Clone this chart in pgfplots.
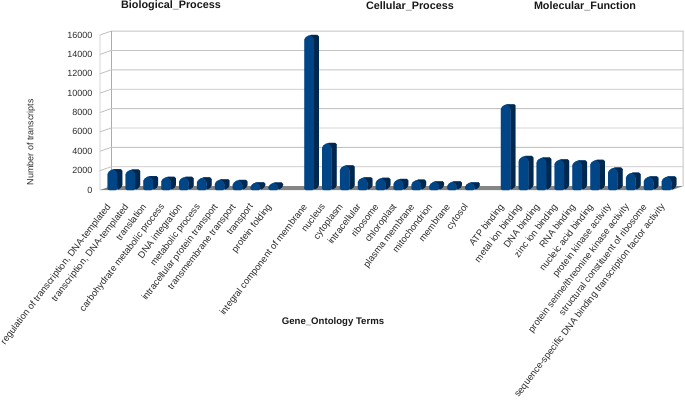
\documentclass[border=0pt]{standalone}
\usepackage{pgfplots}
\usepackage{pgfplotstable}
\usepackage{fontspec}
\setmainfont{Liberation Sans}
\pgfplotsset{compat=1.18}
\definecolor{barfront}{HTML}{004586}
\definecolor{barside}{HTML}{00284F}
\definecolor{gridc}{HTML}{C6C3C3}
\definecolor{floorc}{HTML}{858585}
\definecolor{txt}{HTML}{2A2A2A}
\pgfplotstableread{
x v
0 1800
1 1750
2 1080
3 1000
4 1000
5 930
6 750
7 680
8 450
9 420
11 15640
12 4500
13 2200
14 950
15 890
16 780
17 700
18 550
19 530
20 450
22 8500
23 3150
24 3000
25 2800
26 2700
27 2750
28 1950
29 1430
30 1050
31 1050
}\godata
\begin{document}
\begin{tikzpicture}[x=1pt,y=1pt]
\useasboundingbox (0,0) rectangle (685,400);
\begin{axis}[
  at={(100pt,210pt)}, anchor=south west,
  scale only axis, width=572pt, height=155pt,
  xmin=0, xmax=32, ymin=0, ymax=16000,
  clip=false,
  axis line style={draw=none},
  tick style={draw=none},
  ytick={0,2000,...,16000},
  yticklabel style={font=\fontsize{9}{10}\selectfont, text=txt, xshift=-4pt},
  /pgf/number format/assume math mode=true,
  /pgf/number format/1000 sep={},
  scaled y ticks=false,
  xtick={0.5,1.5,2.5,3.5,4.5,5.5,6.5,7.5,8.5,9.5,11.5,12.5,13.5,14.5,15.5,16.5,17.5,18.5,19.5,20.5,22.5,23.5,24.5,25.5,26.5,27.5,28.5,29.5,30.5,31.5},
  xticklabels={{regulation of transcription, DNA-templated},{transcription, DNA-templated},translation,carbohydrate metabolic process,DNA integration,metabolic process,intracellular protein transport,transmembrane transport,transport,protein folding,integral component of membrane,nucleus,cytoplasm,intracellular,ribosome,chloroplast,plasma membrane,mitochondrion,membrane,cytosol,ATP binding,metal ion binding,DNA binding,zinc ion binding,RNA binding,nucleic acid binding,protein kinase activity,protein serine/threonine kinase activity,structural constituent of ribosome,sequence-specific DNA binding transcription factor activity},
  xticklabel style={font=\fontsize{9.35}{10}\selectfont, text=txt, rotate=52.5, anchor=north east, inner sep=1pt, xshift=-11pt, yshift=-4pt},
]
% wall and floor
\addplot[draw=none, fill=floorc] coordinates {(0,0)(0.62,400)(32.62,400)(32,0)} -- cycle;
\addplot[gridc, line width=0.9pt] coordinates {(0,0)(0,16000)(0.62,16400)(32.62,16400)(32.62,400)};
\addplot[gridc!80!red, line width=0.7pt] coordinates {(0.62,400)(0.62,16400)};
\pgfplotsinvokeforeach{2000,4000,6000,8000,10000,12000,14000}{
  \addplot[gridc, line width=0.9pt] coordinates {(0,#1)(0.62,#1+400)(32.62,#1+400)};
}
% side and top faces
\pgfplotsforeachungrouped \r in {0,...,29}{
  \pgfplotstablegetelem{\r}{x}\of\godata\let\xv\pgfplotsretval
  \pgfplotstablegetelem{\r}{v}\of\godata\let\yv\pgfplotsretval
  \pgfmathsetmacro\xl{\xv+0.43}
  \pgfmathsetmacro\xr{\xv+0.96}
  \pgfmathsetmacro\xs{\xv+1.24}
  \pgfmathsetmacro\xt{\xv+0.71}
  \pgfmathsetmacro\yb{350}
  \pgfmathsetmacro\yo{\yv+350}
  \edef\temp{\noexpand\addplot[draw=barside, line width=0.3pt, fill=barside, rounded corners=1.5pt] coordinates {(\xr,0)(\xs,\yb)(\xs,\yo)(\xt,\yo)(\xr,\yv)} -- cycle;
  \noexpand\addplot[draw=barfront, line width=0.3pt, fill=barfront, rounded corners=1.5pt] coordinates {(\xl,0)(\xr,0)(\xr,\yv)(\xt,\yo)(\xs,\yo)(\xt,\yo)(\xl,\yv)} -- cycle;}
  \temp
}
\end{axis}
\node[font=\bfseries\fontsize{10.8}{12}\selectfont, text=black!90] at (171,394) {Biological\_Process};
\node[font=\bfseries\fontsize{10.8}{12}\selectfont, text=black!90] at (410,394) {Cellular\_Process};
\node[font=\bfseries\fontsize{10.8}{12}\selectfont, text=black!90] at (585,394) {Molecular\_Function};
\node[font=\bfseries\fontsize{9.6}{11}\selectfont, text=black!90] at (333,78) {Gene\_Ontology Terms};
\node[font=\fontsize{9}{10}\selectfont, text=txt, rotate=90] at (31,258) {Number of transcripts};
\end{tikzpicture}
\end{document}
